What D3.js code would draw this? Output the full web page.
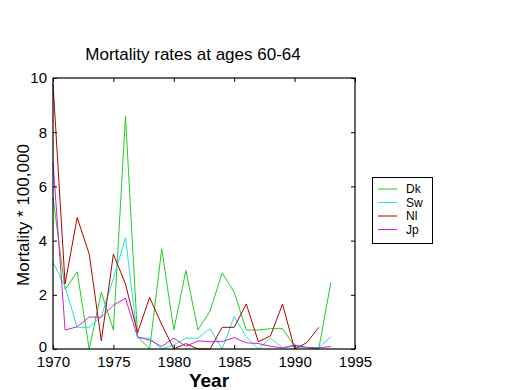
<!DOCTYPE html>
<html><head><meta charset="utf-8">
<script src="https://cdn.jsdelivr.net/npm/d3@7"></script>
<style>body{margin:0;background:#fff}svg{display:block}text{font-family:Arial,"Liberation Sans",sans-serif}</style>
</head><body><svg id="c" width="520" height="390"></svg>
<script>
const years = d3.range(1970, 1994);
const dk = [5.6,2.2,2.85,0,2.1,0.7,8.6,0.45,0,3.7,0.7,2.9,0.7,1.4,2.8,2.1,0.7,0.7,0.75,0.75,0.1,0.05,0,2.45];
const sw = [3.2,2.3,0.8,0.8,1.2,2.6,4.1,0.4,0.4,0,0.15,0.4,0.4,0.75,0,1.2,0.45,0,0.4,0.05,0.1,0.05,0.05,0.45];
const nl = [9.8,2.4,4.85,3.5,0.3,3.5,2.4,0.6,1.9,0.9,0,0.2,0,0,0.8,0.8,1.66,0.27,0.48,1.66,0,0.23,0.8];
const jp = [6.9,0.7,0.82,1.18,1.17,1.62,1.87,0.45,0.33,0.09,0.4,0.1,0.3,0.27,0.27,0.42,0.23,0.2,0.1,0.04,0.15,0.06,0.04,0.09];
const seriesNames = ["Dk","Sw","Nl","Jp"];
const seriesColors = ["#22cc22","#22e0e0","#b00000","#cc22cc"];
const xTicks = [1970,1975,1980,1985,1990,1995];
const yTicks = [0,2,4,6,8,10];
const title = "Mortality rates at ages 60-64";

const svg = d3.select("#c");
const x = d3.scaleLinear().domain([1970,1995]).range([53,355]);
const y = d3.scaleLinear().domain([0,10]).range([349,78]);

const all = [dk, sw, nl, jp];
const line = d3.line().x(d=>x(d[0])).y(d=>y(d[1]));
all.forEach((s,i)=>{
  svg.append("path").datum(s.map((v,j)=>[years[j],v]))
    .attr("fill","none").attr("stroke",seriesColors[i]).attr("stroke-width",1)
    .attr("d",line);
});

// box
svg.append("rect").attr("x",x(1970)).attr("y",y(10)).attr("width",x(1995)-x(1970)).attr("height",y(0)-y(10))
  .attr("fill","none").attr("stroke","#000").attr("stroke-width",1.2);

const axB = d3.axisBottom(x).tickValues(xTicks).tickFormat(d3.format("d")).tickSizeInner(-4).tickSizeOuter(0).tickPadding(5);
const axT = d3.axisTop(x).tickValues(xTicks).tickFormat("").tickSizeInner(-4).tickSizeOuter(0);
const axL = d3.axisLeft(y).tickValues(yTicks).tickFormat(d3.format("d")).tickSizeInner(-4).tickSizeOuter(0).tickPadding(6);
const axR = d3.axisRight(y).tickValues(yTicks).tickFormat("").tickSizeInner(-4).tickSizeOuter(0);

function style(g){ g.select(".domain").remove(); g.selectAll("line").attr("stroke","#000");
  g.selectAll("text").attr("font-size",15).attr("fill","#000"); }
svg.append("g").attr("transform",`translate(0,${y(0)})`).call(axB).call(style).selectAll("text").attr("dy","0.72em").attr("y",7);
svg.append("g").attr("transform",`translate(0,${y(10)})`).call(axT).call(style);
svg.append("g").attr("transform",`translate(${x(1970)},0)`).call(axL).call(style)
  .selectAll("text").filter(d=>d===0).attr("dy","0.15em");
svg.append("g").attr("transform",`translate(${x(1995)},0)`).call(axR).call(style);

svg.append("text").attr("x",193).attr("y",60).attr("text-anchor","middle").attr("font-size",17).text(title);
svg.append("text").attr("x",209).attr("y",387).attr("text-anchor","middle").attr("font-size",19).attr("font-weight","bold").text("Year");
svg.append("text").attr("transform","translate(29,215) rotate(-90)").attr("text-anchor","middle").attr("font-size",17).text("Mortality * 100,000");

// legend
const lg = svg.append("g");
lg.append("rect").attr("x",372.5).attr("y",177.5).attr("width",60).attr("height",66).attr("fill","#fff").attr("stroke","#000");
seriesNames.forEach((n,i)=>{
  const yy = 189 + i*13.5;
  lg.append("line").attr("x1",378).attr("x2",397).attr("y1",yy).attr("y2",yy).attr("stroke",seriesColors[i]);
  lg.append("text").attr("x",406).attr("y",yy+4).attr("font-size",12).text(n);
});
</script></body></html>
